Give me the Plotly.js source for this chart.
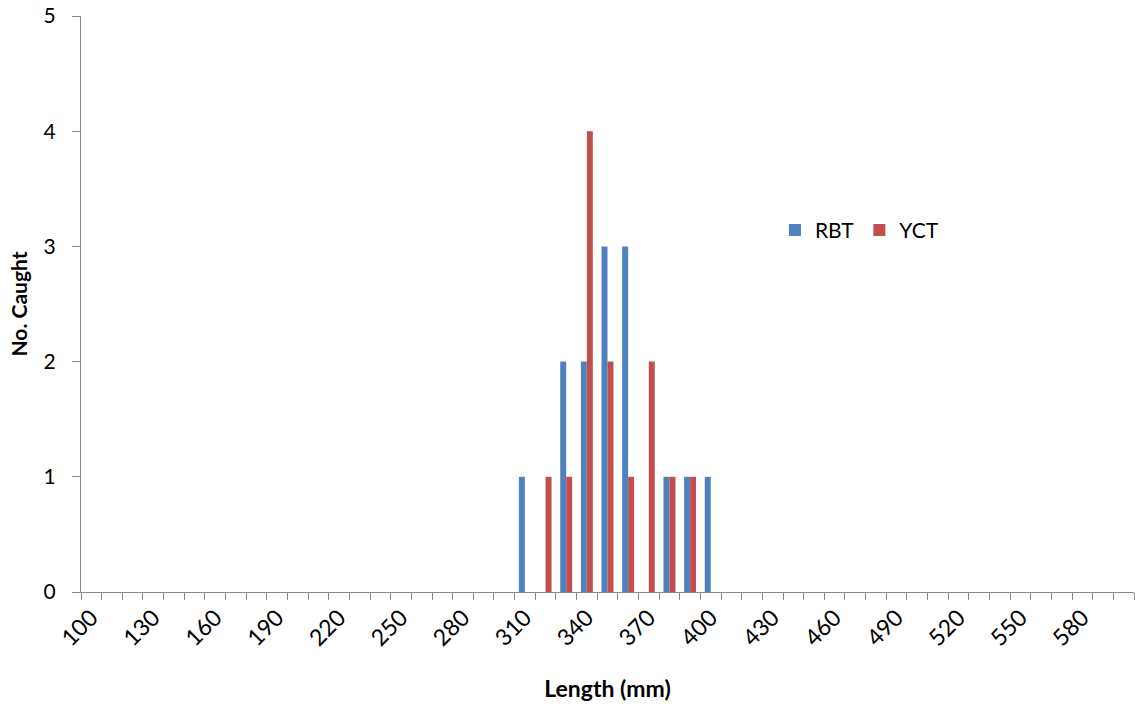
<!DOCTYPE html>
<html>
<head>
<meta charset="utf-8">
<script src="https://cdn.plot.ly/plotly-3.0.1.min.js"></script>
<style>html,body{margin:0;padding:0;background:#fff;}#chart{width:1135px;height:706px;}</style>
</head>
<body>
<div id="chart"></div>
<script>
var categories = ["100","110","120","130","140","150","160","170","180","190",
  "200","210","220","230","240","250","260","270","280","290",
  "300","310","320","330","340","350","360","370","380","390",
  "400","410","420","430","440","450","460","470","480","490",
  "500","510","520","530","540","550","560","570","580","590","600"];
var rbtValues = [0,0,0,0,0,0,0,0,0,0,
  0,0,0,0,0,0,0,0,0,0,
  0,1,0,2,2,3,3,0,1,1,
  1,0,0,0,0,0,0,0,0,0,
  0,0,0,0,0,0,0,0,0,0,0];
var yctValues = [0,0,0,0,0,0,0,0,0,0,
  0,0,0,0,0,0,0,0,0,0,
  0,0,1,1,4,2,1,2,1,1,
  0,0,0,0,0,0,0,0,0,0,
  0,0,0,0,0,0,0,0,0,0,0];
var tickLabels = ["100","","","130","","","160","","","190","","","220","","","250","","","280","","",
  "310","","","340","","","370","","","400","","","430","","","460","","","490","","",
  "520","","","550","","","580","",""];
var seriesNames = ["RBT","YCT"];
var font = "Lato, 'Open Sans', sans-serif";

var traces = [
  {type:"bar", name:seriesNames[0], x:categories, y:rbtValues, marker:{color:"#4F81BD"}},
  {type:"bar", name:seriesNames[1], x:categories, y:yctValues, marker:{color:"#C0504D"}}
];
var layout = {
  width:1135, height:706,
  margin:{l:81, r:1, t:16, b:114},
  paper_bgcolor:"#fff", plot_bgcolor:"#fff",
  barmode:"group", bargap:0.42, bargroupgap:0,
  font:{family:font, size:21, color:"#000"},
  showlegend:true,
  legend:{orientation:"h", x:0.659, y:0.628, xanchor:"left", yanchor:"middle",
    font:{family:font, size:21, color:"#000"}, bgcolor:"rgba(0,0,0,0)", itemwidth:30, tracegroupgap:0},
  xaxis:{type:"category", categoryorder:"array", categoryarray:categories,
    tickmode:"array", tickvals:categories, ticktext:tickLabels, tickangle:-45,
    tickson:"boundaries", ticks:"outside", ticklen:7, tickcolor:"#888", tickwidth:1,
    showline:true, linecolor:"#888", linewidth:1, showgrid:false, zeroline:false,
    range:[-0.5, 50.5], ticklabelstandoff:2,
    tickfont:{family:font, size:23, color:"#000"},
    title:{text:"<b>Length (mm)</b>", font:{family:font, size:23, color:"#000"}, standoff:30}},
  yaxis:{range:[0,5], dtick:1, tick0:0, ticks:"outside", ticklen:8, tickcolor:"#888",
    showline:true, linecolor:"#888", linewidth:1, showgrid:false, zeroline:false,
    ticklabelstandoff:12,
    tickfont:{family:font, size:21, color:"#000"},
    title:{text:"<b>No. Caught</b>", font:{family:font, size:21, color:"#000"}, standoff:10}}
};
Plotly.newPlot("chart", traces, layout, {displayModeBar:false, staticPlot:true});
</script>
</body>
</html>
